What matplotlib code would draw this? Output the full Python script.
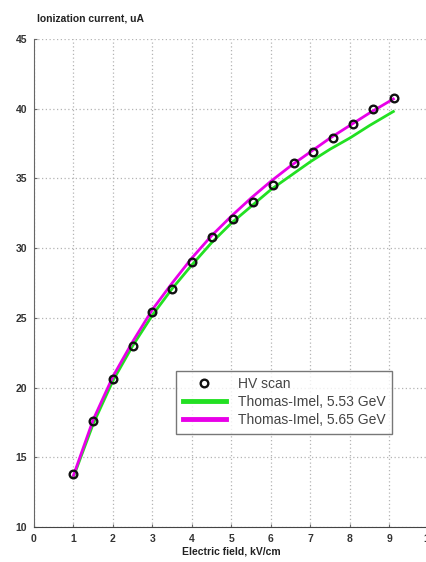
import matplotlib
matplotlib.use("Agg")
import matplotlib.pyplot as plt

# HV scan points
scan_x = [1.0, 1.5, 2.0, 2.5, 3.0, 3.5, 4.0, 4.5, 5.03, 5.54, 6.06, 6.58, 7.07, 7.58, 8.08, 8.59, 9.11]
scan_y = [13.8, 17.6, 20.6, 23.0, 25.4, 27.1, 29.0, 30.8, 32.1, 33.3, 34.5, 36.1, 36.9, 37.9, 38.9, 40.0, 40.8]

# model curves
fit_x = [1.0, 1.5, 2.0, 2.5, 3.0, 3.5, 4.0, 4.5, 5.0, 5.5, 6.0, 6.5, 7.0, 7.5, 8.0, 8.5, 9.1]
fit_553 = [13.6, 17.4, 20.5, 23.0, 25.2, 27.1, 28.8, 30.4, 31.8, 33.0, 34.2, 35.2, 36.2, 37.1, 37.9, 38.8, 39.8]
fit_565 = [13.7, 17.7, 20.8, 23.3, 25.6, 27.5, 29.3, 30.9, 32.3, 33.6, 34.8, 35.9, 36.9, 37.9, 38.8, 39.7, 40.7]

xticks = [0, 1, 2, 3, 4, 5, 6, 7, 8, 9, 10]
yticks = [10, 15, 20, 25, 30, 35, 40, 45]

plt.rcParams['font.family'] = ['Liberation Sans', 'DejaVu Sans']

fig = plt.figure(figsize=(4.26, 5.62), dpi=100, facecolor="white")
ax = fig.add_axes([0.0798, 0.0623, 0.927, 0.8683])

ax.plot(fit_x, fit_553, color="#22e022", linewidth=2, label="Thomas-Imel, 5.53 GeV", zorder=3)
ax.plot(fit_x, fit_565, color="#e800e8", linewidth=2, label="Thomas-Imel, 5.65 GeV", zorder=4)
ax.plot(scan_x, scan_y, linestyle="none", marker="o", markersize=5.5, markerfacecolor="none",
        markeredgecolor="#111111", markeredgewidth=1.7, label="HV scan", zorder=5)

ax.set_xlim(0, 10)
ax.set_ylim(10, 45)
ax.set_xticks(xticks)
ax.set_yticks(yticks)
ax.grid(True, linestyle=(0, (1, 2)), color="#b4b4b4", linewidth=0.9)

ax.spines['top'].set_visible(False)
ax.spines['right'].set_visible(False)
ax.spines['left'].set_color("#666666")
ax.spines['bottom'].set_color("#444444")
ax.spines['bottom'].set_linestyle((0, (2, 1)))
ax.tick_params(direction="in", length=2, color="#666666", labelsize=7.5, labelcolor="#333333", pad=5)
for lab in ax.get_xticklabels() + ax.get_yticklabels():
    lab.set_fontweight("bold")

fig.text(0.087, 0.962, "Ionization current, uA", fontsize=7.5, fontweight="bold", color="#222222")
ax.set_xlabel("Electric field, kV/cm", fontsize=7.5, fontweight="bold", color="#222222", labelpad=2)

handles, labels = ax.get_legend_handles_labels()
order = [2, 0, 1]
leg = ax.legend([handles[i] for i in order], [labels[i] for i in order],
                loc="lower left", bbox_to_anchor=(0.35, 0.183), fontsize=10,
                frameon=True, fancybox=False, handlelength=3.1, borderpad=0.45,
                labelspacing=0.3, handletextpad=0.9, borderaxespad=0.3)
leg.get_frame().set_edgecolor("#555555")
leg.get_frame().set_linewidth(1.0)
for t in leg.get_texts():
    t.set_color("#444444")
for h in leg.legend_handles[1:]:
    h.set_linewidth(3.5)

plt.savefig("out.png", dpi=100)
